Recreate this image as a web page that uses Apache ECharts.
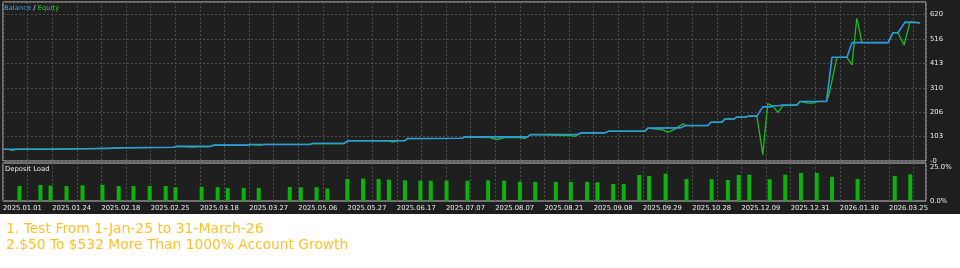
<!DOCTYPE html>
<html>
<head>
<meta charset="utf-8">
<script src="https://cdn.jsdelivr.net/npm/echarts@6/dist/echarts.min.js"></script>
<style>
html,body{margin:0;padding:0;background:#ffffff;}
#chart{width:960px;height:268px;background:linear-gradient(to bottom,#1e1e1e 0px,#1e1e1e 214px,#ffffff 214px,#ffffff 268px);}
</style>
</head>
<body>
<div id="chart"></div>
<script>
// x tick labels (one every 20 deals)
const xTickLabels = ['2025.01.01','2025.01.24','2025.02.18','2025.02.25','2025.03.18','2025.03.27','2025.05.06','2025.05.27','2025.06.17','2025.07.07','2025.08.07','2025.08.21','2025.09.08','2025.09.29','2025.10.28','2025.12.09','2025.12.31','2026.01.30','2026.03.25'];
// right axis tick labels
const yTickLabels = ['-0','103','206','310','413','516','620'];
const loadTickLabels = ['0.0%','25.0%'];

// Balance [deal index, value]
const balance = [[0,50],[19.7,50],[20.5,53],[38.4,53],[39.2,56],[49.8,56],[50.6,58],[69.3,58],[70.5,62],[84.3,62],[85.6,67],[99.4,67],[100.6,70],[124.6,70],[125.8,74],[138.4,74],[140.4,86],[163.2,86],[164.4,95],[186.4,96],[187.6,102],[213.2,102],[214.4,112],[233.5,112],[234.8,119],[244.5,119],[246.1,126],[260.8,126],[262.0,139],[275.0,140],[276.2,145],[277.4,150],[286.4,150],[287.6,164],[292.1,164],[293.3,178],[297.0,178],[298.2,186],[301.8,186],[303.0,190],[306.3,190],[308.7,229],[312.0,229],[313.2,234],[315.2,234],[316.5,237],[322.6,237],[323.8,252],[334.6,252],[336.8,439],[342.9,439],[344.9,501],[359.6,501],[361.6,543],[363.6,543],[366.5,588],[372.6,585]];

// Equity [deal index, value]
const equity = [[0,50],[2.6,48],[4.0,45],[5.5,50],[19.7,50],[20.5,53],[38.4,53],[39.2,56],[43.3,52],[45.3,56],[49.8,56],[50.6,58],[69.3,58],[70.5,62],[77.8,59],[79.9,62],[82.7,60],[84.3,62],[85.6,67],[99.4,67],[100.6,70],[104.3,66],[106.3,70],[124.6,70],[125.8,74],[138.4,74],[140.4,86],[157.1,84],[158.3,80],[160.4,86],[163.2,86],[164.4,95],[186.4,96],[187.6,102],[197.8,99],[200.6,91],[203.9,99],[209.9,100],[212.0,95],[214.4,112],[230.3,108],[232.3,104],[234.8,119],[244.5,119],[246.1,126],[260.8,126],[262.0,139],[268.1,132],[270.1,121],[273.0,135],[276.2,158],[277.4,150],[286.4,150],[287.6,164],[292.1,164],[293.3,178],[297.0,178],[298.2,186],[301.8,186],[303.0,190],[306.3,190],[308.7,27],[310.7,243],[312.8,232],[314.8,206],[316.9,234],[322.6,237],[323.8,252],[327.0,245],[329.1,245],[331.1,252],[334.6,252],[335.8,290],[338.8,439],[342.9,439],[344.9,407],[346.9,604],[349.0,501],[359.6,501],[361.6,543],[363.6,543],[366.1,491],[368.5,590],[372.6,585]];

// Deposit load [deal index, percent]
const depositLoad = [[6.7,11.0],[15.2,11.8],[19.3,11.3],[25.8,11.0],[32.3,11.5],[40.4,11.8],[47.0,11.0],[53.0,11.0],[59.6,11.0],[66.1,11.0],[70.1,10.1],[80.7,10.5],[87.2,10.1],[91.3,9.6],[97.8,9.6],[103.9,9.6],[116.5,10.3],[121.0,10.1],[127.4,10.1],[131.8,9.2],[139.9,16.2],[146.3,16.4],[152.6,16.2],[156.8,15.7],[163.3,15.2],[169.6,14.9],[173.8,14.9],[180.2,14.9],[188.7,14.9],[197.1,15.2],[203.6,14.9],[210.0,14.2],[216.2,14.0],[224.6,14.0],[230.7,14.0],[237.3,14.0],[241.5,13.8],[247.9,12.5],[252.2,12.5],[258.5,19.1],[262.5,18.4],[269.2,20.1],[277.7,16.2],[287.9,16.0],[294.5,15.4],[298.9,19.1],[303.2,19.3],[311.5,16.0],[317.8,19.3],[324.2,20.6],[330.6,20.6],[336.8,17.6],[347.2,16.2],[362.3,18.4],[368.6,19.6]];

const noteLines = ['1. Test From 1-Jan-25 to 31-March-26','2.$50 To $532 More Than 1000% Account Growth'];

const FONT = 'DejaVu Sans';
const SMALL = 6.8;
const labelColor = '#ededed';
const gridLineStyle = {color:'#4d4d4d', type:[2,2], width:1};
const YSTEP = 620/6;

const chart = echarts.init(document.getElementById('chart'), null, {renderer:'canvas'});
chart.setOption({
  backgroundColor:'transparent',
  animation:false,
  title:[
    {left:4, top:5, padding:0, text:'{b|Balance}{w| / }{e|Equity}',
     textStyle:{fontSize:SMALL, fontFamily:FONT, fontWeight:'normal',
       rich:{b:{color:'#3ba3f0',fontSize:SMALL,fontFamily:FONT},w:{color:'#e0e0e0',fontSize:SMALL,fontFamily:FONT},e:{color:'#2ccc2c',fontSize:SMALL,fontFamily:FONT}}}},
    {left:5, top:166, padding:0, text:'Deposit Load', textStyle:{color:labelColor,fontSize:SMALL,fontFamily:FONT,fontWeight:'normal'}},
    {left:6, top:222.5, padding:0, text:noteLines[0], textStyle:{color:'#ffc12a',fontSize:13.9,fontFamily:FONT,fontWeight:'normal'}},
    {left:6, top:238.5, padding:0, text:noteLines[1], textStyle:{color:'#ffc12a',fontSize:13.8,fontFamily:FONT,fontWeight:'normal'}}
  ],
  grid:[
    {left:3, top:2, width:923, height:159, show:true, borderColor:'#c4c4c4', borderWidth:1, backgroundColor:'#1f1f1f'},
    {left:3, top:163, width:923, height:38, show:true, borderColor:'#c4c4c4', borderWidth:1, backgroundColor:'#1f1f1f'}
  ],
  xAxis:[
    {type:'value', gridIndex:0, min:0, max:375, interval:10,
     axisLine:{show:false}, axisTick:{show:false}, axisLabel:{show:false},
     splitLine:{show:true, lineStyle:gridLineStyle}},
    {type:'value', gridIndex:1, min:0, max:375, interval:10,
     axisLine:{show:false}, axisTick:{show:false},
     axisLabel:{show:true, color:labelColor, fontSize:SMALL, fontFamily:FONT, align:'left', margin:4,
       showMaxLabel:false,
       formatter:function(v){ const r=Math.round(v); if (r%20!==0) return ''; const s=xTickLabels[r/20]; return s||''; }},
     splitLine:{show:true, lineStyle:gridLineStyle}}
  ],
  yAxis:[
    {type:'value', gridIndex:0, position:'right', min:0, max:673, interval:YSTEP,
     axisLine:{show:false}, axisTick:{show:false},
     axisLabel:{show:true, color:labelColor, fontSize:SMALL, fontFamily:FONT, margin:4, showMaxLabel:false,
       formatter:function(v){ const i=Math.round(v/YSTEP); if (Math.abs(v-i*YSTEP)>1) return ''; return yTickLabels[i]||''; }},
     splitLine:{show:true, lineStyle:gridLineStyle}},
    {type:'value', gridIndex:1, position:'right', min:0, max:27.9, interval:25,
     axisLine:{show:false}, axisTick:{show:false},
     axisLabel:{show:true, color:labelColor, fontSize:SMALL, fontFamily:FONT, margin:4, showMaxLabel:false,
       formatter:function(v){ const i=Math.round(v/25); if (Math.abs(v-i*25)>0.01) return ''; return loadTickLabels[i]||''; }},
     splitLine:{show:false}}
  ],
  series:[
    {type:'bar', name:'Deposit Load', xAxisIndex:1, yAxisIndex:1, data:depositLoad, barWidth:4,
     itemStyle:{color:'#0db30d'}},
    {type:'line', name:'Equity', xAxisIndex:0, yAxisIndex:0, data:equity, showSymbol:false, symbol:'none',
     lineStyle:{color:'#22b922', width:1.3}},
    {type:'line', name:'Balance', xAxisIndex:0, yAxisIndex:0, data:balance, showSymbol:false, symbol:'none',
     lineStyle:{color:'#2e9be0', width:1.6}}
  ]
});
</script>
</body>
</html>
